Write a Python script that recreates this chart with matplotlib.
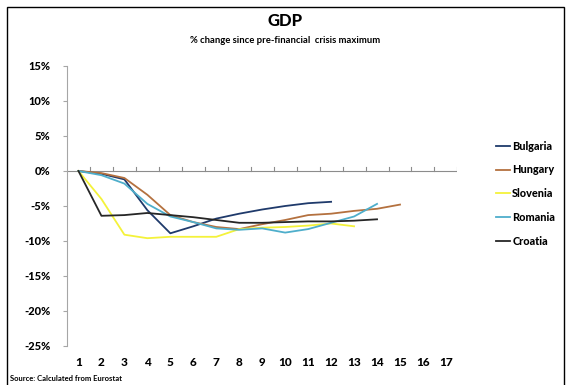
import matplotlib
matplotlib.use('Agg')
import matplotlib.pyplot as plt
from matplotlib.patches import Rectangle

# % change in GDP since the pre-crisis peak, by period
periods = list(range(1, 18))
bulgaria = [0, -0.4, -1.2, -5.6, -8.9, -7.9, -6.8, -6.1, -5.5, -5.0, -4.6, -4.4]
hungary = [0, -0.3, -1.0, -3.4, -6.3, -7.3, -8.0, -8.3, -7.6, -7.0, -6.3, -6.1, -5.7, -5.4, -4.8]
slovenia = [0, -4.0, -9.1, -9.6, -9.4, -9.4, -9.4, -8.3, -8.1, -8.0, -7.8, -7.5, -7.9]
romania = [0, -0.6, -1.8, -4.7, -6.5, -7.3, -8.2, -8.4, -8.2, -8.8, -8.3, -7.4, -6.5, -4.7]
croatia = [0, -6.4, -6.3, -6.0, -6.3, -6.6, -7.0, -7.4, -7.4, -7.3, -7.2, -7.2, -7.1, -6.9]

series = [
    ('Bulgaria', bulgaria, '#1f3a6b'),
    ('Hungary', hungary, '#b4713f'),
    ('Slovenia', slovenia, '#f4f23a'),
    ('Romania', romania, '#4eaecb'),
    ('Croatia', croatia, '#262626'),
]
yticks = [15, 10, 5, 0, -5, -10, -15, -20, -25]

plt.rcParams['font.family'] = ['Lato', 'DejaVu Sans']
plt.rcParams['font.weight'] = 'bold'

fig = plt.figure(figsize=(5.7, 3.85), dpi=100)
ax = fig.add_axes([0.1175, 0.1013, 0.685, 0.7273])

for name, vals, col in series:
    ax.plot(periods[:len(vals)], vals, color=col, lw=1.3, label=name)

ax.set_xlim(0.5, 17.5)
ax.set_ylim(-25, 15)

# zero line with tick marks between categories
ax.axhline(0, color='#8c8c8c', lw=0.8, zorder=0)
for b in range(1, 18):
    ax.plot([b + 0.5, b + 0.5], [0, 0.6], color='#8c8c8c', lw=0.8, zorder=0)

for s in ['top', 'right', 'bottom']:
    ax.spines[s].set_visible(False)
ax.spines['left'].set_color('#a6a6a6')
ax.spines['left'].set_linewidth(0.8)

ax.set_xticks(periods)
ax.set_xticklabels([str(p) for p in periods], fontsize=8.5, fontweight='black')
ax.tick_params(axis='x', length=0, pad=8)
ax.set_yticks(yticks)
ax.set_yticklabels(['%d%%' % v for v in yticks], fontsize=8, fontweight='black')
ax.tick_params(axis='y', length=3, color='#a6a6a6', pad=9)

ax.legend(loc='upper left', bbox_to_anchor=(0.853, 0.66), bbox_transform=fig.transFigure,
          frameon=False, handlelength=1.3, handletextpad=0.2, labelspacing=1.18,
          prop={'size': 7.8, 'weight': 'black'})

fig.text(0.5, 0.946, 'GDP', ha='center', va='center', fontsize=12, fontweight='black')
fig.text(0.5, 0.895, '% change since pre-financial  crisis maximum', ha='center', va='center',
         fontsize=6.8, fontweight='bold')
fig.text(0.018, 0.016, 'Source: Calculated from Eurostat', ha='left', va='center',
         fontsize=5.5, fontweight='bold')

fig.patches.append(Rectangle((0.012, -0.05), 0.977, 1.032, transform=fig.transFigure,
                             fill=False, edgecolor='black', lw=1.0))

fig.savefig('out.png', dpi=100)
